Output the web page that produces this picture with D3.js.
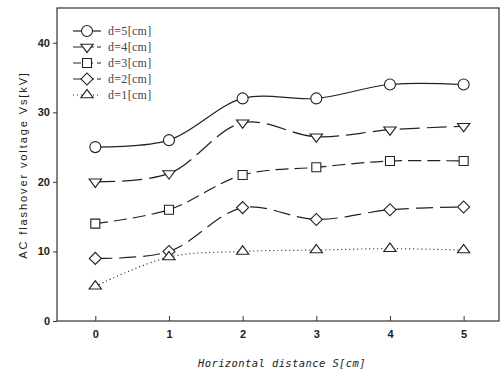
<!DOCTYPE html>
<html>
<head>
<meta charset="utf-8">
<script src="https://cdn.jsdelivr.net/npm/d3@7"></script>
<style>
  body { margin: 0; background: #fff; }
  .tick text { font-family: "Liberation Sans", Arial, sans-serif; font-weight: bold; font-size: 11px; fill: #222; }
</style>
</head>
<body>
<div id="viz"></div>
<script>
const distances = [0, 1, 2, 3, 4, 5];
const d5 = [25, 26, 32, 32, 34, 34];
const d4 = [20, 21.2, 28.5, 26.5, 27.5, 28];
const d3v = [14, 16, 21, 22.1, 23, 23];
const d2 = [9, 10, 16.3, 14.6, 16, 16.4];
const d1 = [5, 9.2, 10, 10.2, 10.4, 10.2];
const seriesNames = ["d=5[cm]", "d=4[cm]", "d=3[cm]", "d=2[cm]", "d=1[cm]"];
const yTicks = [0, 10, 20, 30, 40];

const W = 501, H = 372;
const plotLeft = 57, plotRight = 499, plotTop = 8, plotBottom = 321;

const svg = d3.select("#viz").append("svg").attr("width", W).attr("height", H);

const x = d3.scaleLinear().domain([-0.52, 5.48]).range([plotLeft, plotRight]);
const y = d3.scaleLinear().domain([0, 45]).range([plotBottom, plotTop]);

// frame
svg.append("rect").attr("x", plotLeft).attr("y", plotTop)
  .attr("width", plotRight - plotLeft).attr("height", plotBottom - plotTop)
  .attr("fill", "none").attr("stroke", "#333").attr("stroke-width", 1.2);

// axes
const xAxis = svg.append("g").attr("transform", `translate(0,${plotBottom})`)
  .call(d3.axisBottom(x).tickValues(distances).tickFormat(d3.format("d")).tickSize(-5).tickPadding(9));
xAxis.select(".domain").remove();
xAxis.selectAll("line").attr("stroke", "#333");

const yAxis = svg.append("g").attr("transform", `translate(${plotLeft},0)`)
  .call(d3.axisLeft(y).tickValues(yTicks).tickSize(4).tickPadding(3));
yAxis.select(".domain").remove();
yAxis.selectAll("line").attr("stroke", "#333");

// axis titles
svg.append("text").attr("x", 282).attr("y", 367).attr("text-anchor", "middle")
  .attr("font-family", "DejaVu Sans Mono, monospace").attr("font-style", "italic")
  .attr("font-size", 10.5).attr("letter-spacing", 0.4).attr("fill", "#222")
  .text("Horizontal distance S[cm]");
svg.append("text").attr("transform", `translate(27,165) rotate(-90)`)
  .attr("text-anchor", "middle")
  .attr("font-family", "Liberation Sans, Arial, sans-serif")
  .attr("font-size", 11).attr("letter-spacing", 1.9).attr("fill", "#222")
  .text("AC flashover voltage Vs[kV]");

const series = [
  { name: seriesNames[0], vals: d5, dash: null, legDash: null, sym: d3.symbolCircle, size: 95, tf: "" },
  { name: seriesNames[1], vals: d4, dash: "20,7", legDash: "9,3", sym: d3.symbolTriangle, size: 50, tf: " rotate(180) scale(1.15,0.9)" },
  { name: seriesNames[2], vals: d3v, dash: "13,6", legDash: "8,4", sym: d3.symbolSquare, size: 81, tf: "" },
  { name: seriesNames[3], vals: d2, dash: "17,7", legDash: "9,3", sym: d3.symbolSquare, size: 72, tf: " rotate(45)" },
  { name: seriesNames[4], vals: d1, dash: "1,3", legDash: "1,3", sym: d3.symbolTriangle, size: 50, tf: " scale(1.15,0.9)" }
];

const line = d3.line().x((d, i) => x(distances[i])).y(d => y(d)).curve(d3.curveCatmullRom.alpha(0.5));

series.forEach(s => {
  svg.append("path").attr("d", line(s.vals))
    .attr("fill", "none").attr("stroke", "#222").attr("stroke-width", 1.2)
    .attr("stroke-dasharray", s.dash);
  svg.selectAll(null).data(s.vals).enter().append("path")
    .attr("d", d3.symbol(s.sym, s.size))
    .attr("transform", (d, i) => `translate(${x(distances[i])},${y(d)})` + s.tf)
    .attr("fill", "#fff").attr("stroke", "#222").attr("stroke-width", 1.1);
});

// legend
const lg = svg.append("g").attr("class", "legend");
series.forEach((s, i) => {
  const ly = 31 + i * 16;
  lg.append("line").attr("x1", 73).attr("x2", 101).attr("y1", ly).attr("y2", ly)
    .attr("stroke", "#222").attr("stroke-width", 1.2).attr("stroke-dasharray", s.legDash);
  lg.append("path").attr("d", d3.symbol(s.sym, s.size))
    .attr("transform", `translate(87,${ly})` + s.tf)
    .attr("fill", "#fff").attr("stroke", "#222").attr("stroke-width", 1.1);
  lg.append("text").attr("x", 108).attr("y", ly + 4)
    .attr("font-family", "Liberation Serif, Times New Roman, serif").attr("font-size", 12)
    .attr("letter-spacing", 0.3).attr("fill", "#444").text(s.name);
});
</script>
</body>
</html>
